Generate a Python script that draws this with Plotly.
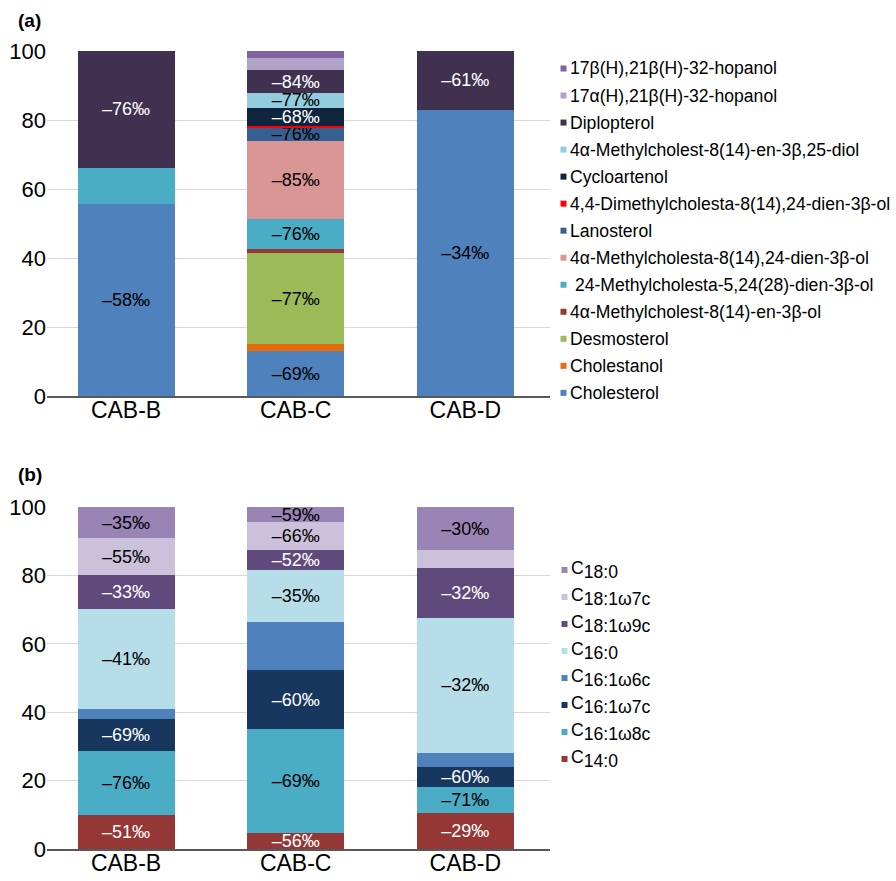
import plotly.graph_objects as go

# ---- data -------------------------------------------------------------
sites = ["CAB-B", "CAB-C", "CAB-D"]

# (a) sterols and hopanols, relative abundance (%), listed bottom -> top of the stack
sterol_names = [
    "Cholesterol",
    "Cholestanol",
    "Desmosterol",
    "4α-Methylcholest-8(14)-en-3β-ol",
    " 24-Methylcholesta-5,24(28)-dien-3β-ol",
    "4α-Methylcholesta-8(14),24-dien-3β-ol",
    "Lanosterol",
    "4,4-Dimethylcholesta-8(14),24-dien-3β-ol",
    "Cycloartenol",
    "4α-Methylcholest-8(14)-en-3β,25-diol",
    "Diplopterol",
    "17α(H),21β(H)-32-hopanol",
    "17β(H),21β(H)-32-hopanol",
]
cholesterol = [55.7, 13.0, 83.0]
cholestanol = [0.0, 2.1, 0.0]
desmosterol = [0.0, 26.3, 0.0]
methylcholestenol = [0.0, 1.3, 0.0]
methylcholestadienol_24 = [10.4, 8.5, 0.0]
methylcholestadienol_4a = [0.0, 22.8, 0.0]
lanosterol = [0.0, 3.9, 0.0]
dimethylcholestadienol = [0.0, 0.5, 0.0]
cycloartenol = [0.0, 5.2, 0.0]
methylcholestenediol = [0.0, 4.3, 0.0]
diplopterol = [33.9, 6.5, 17.0]
hopanol_17a = [0.0, 3.7, 0.0]
hopanol_17b = [0.0, 1.9, 0.0]

sterol_values = [
    cholesterol, cholestanol, desmosterol, methylcholestenol,
    methylcholestadienol_24, methylcholestadienol_4a, lanosterol,
    dimethylcholestadienol, cycloartenol, methylcholestenediol,
    diplopterol, hopanol_17a, hopanol_17b,
]

# δ13C labels (‰) per compound and site (None = not labelled)
sterol_labels = [
    ["–58‰", "–69‰", "–34‰"],
    None,
    [None, "–77‰", None],
    None,
    [None, "–76‰", None],
    [None, "–85‰", None],
    [None, "–76‰", None],
    None,
    [None, "–68‰", None],
    [None, "–77‰", None],
    ["–76‰", "–84‰", "–61‰"],
    None,
    None,
]

# (b) fatty acids, relative abundance (%), bottom -> top
fa_names = [
    "C<sub>14:0</sub>",
    "C<sub>16:1ω8c</sub>",
    "C<sub>16:1ω7c</sub>",
    "C<sub>16:1ω6c</sub>",
    "C<sub>16:0</sub>",
    "C<sub>18:1ω9c</sub>",
    "C<sub>18:1ω7c</sub>",
    "C<sub>18:0</sub>",
]
c14_0 = [9.9, 4.8, 10.4]
c16_1w8c = [18.9, 30.2, 7.6]
c16_1w7c = [9.3, 17.3, 5.9]
c16_1w6c = [2.9, 14.1, 4.3]
c16_0 = [29.2, 15.1, 39.4]
c18_1w9c = [9.9, 5.9, 14.7]
c18_1w7c = [10.8, 8.2, 5.0]
c18_0 = [9.1, 4.4, 12.7]

fa_values = [c14_0, c16_1w8c, c16_1w7c, c16_1w6c, c16_0, c18_1w9c, c18_1w7c, c18_0]

fa_labels = [
    ["–51‰", "–56‰", "–29‰"],
    ["–76‰", "–69‰", "–71‰"],
    ["–69‰", "–60‰", "–60‰"],
    None,
    ["–41‰", "–35‰", "–32‰"],
    ["–33‰", "–52‰", "–32‰"],
    ["–55‰", "–66‰", None],
    ["–35‰", "–59‰", "–30‰"],
]

y_ticks = [0, 20, 40, 60, 80, 100]

# ---- styling ----------------------------------------------------------
FONT = "Liberation Sans, Arial, sans-serif"
LEGEND_SIZE = 17.6

sterol_colors = [
    "#4F81BD", "#E46C0A", "#9BBB59", "#953735", "#4BACC6", "#D99694",
    "#376092", "#FF0000", "#10243E", "#93CDDD", "#403151", "#B3A2C7", "#8064A2",
]
sterol_text_colors = [
    "black", "black", "black", "white", "black", "black",
    "black", "white", "white", "black", "white", "black", "white",
]

fa_colors = [
    "#953735", "#4BACC6", "#17375E", "#4F81BD", "#B7DEE8", "#604A7B", "#CCC1DA", "#9A84B5",
]
fa_text_colors = ["white", "black", "white", "white", "black", "white", "black", "black"]

# figure geometry (pixels)
W, H = 896, 881
ML, MR, MT, MB = 47, 346, 51, 32
PW, PH = W - ML - MR, H - MT - MB


def px_x(px):
    return (px - ML) / PW


def px_y(py):
    return (H - MB - py) / PH


fig = go.Figure()


def add_stack(names, values, labels, colors, text_colors, xa, ya):
    for name, vals, labs, col, tcol in zip(names, values, labels, colors, text_colors):
        bar = dict(
            x=sites, y=vals, name=name,
            marker=dict(color=col, line=dict(width=0)),
            xaxis=xa, yaxis=ya, showlegend=False, hoverinfo="skip",
        )
        if labs is not None:
            bar.update(
                text=labs, textposition="inside", insidetextanchor="middle",
                textangle=0, textfont=dict(family=FONT, size=18, color=tcol),
            )
        else:
            bar.update(textposition="none")
        fig.add_trace(go.Bar(**bar))


add_stack(sterol_names, sterol_values, sterol_labels, sterol_colors,
          sterol_text_colors, "x", "y")
add_stack(fa_names, fa_values, fa_labels, fa_colors, fa_text_colors, "x2", "y2")

# ---- legends (square swatch + label, top entry = top of stack) ---------
shapes = []
annotations = []


def full_size_sub(label):
    # subscripts drawn at the full legend size, only lowered
    return label.replace(
        "<sub>", "<sub><span style='font-size:%.1fpx'>" % LEGEND_SIZE
    ).replace("</sub>", "</span></sub>")


def add_legend(names, colors, first_y, step, sw_x, txt_x):
    for i, (name, col) in enumerate(zip(reversed(names), reversed(colors))):
        cy = first_y + i * step
        shapes.append(dict(
            type="rect", xref="paper", yref="paper",
            x0=px_x(sw_x - 3), x1=px_x(sw_x + 3),
            y0=px_y(cy + 3), y1=px_y(cy - 3),
            fillcolor=col, line=dict(width=0),
        ))
        annotations.append(dict(
            text=full_size_sub(name), xref="paper", yref="paper",
            x=px_x(txt_x), y=px_y(cy), xanchor="left", yanchor="middle",
            showarrow=False, font=dict(family=FONT, size=LEGEND_SIZE, color="black"),
        ))


add_legend(sterol_names, sterol_colors, 68.5, 27.03, 563.5, 568)
add_legend(fa_names, fa_colors, 570, 27.0, 564.5, 569)

for lab, cy in (("(a)", 21), ("(b)", 474)):
    annotations.append(dict(
        text="<b>%s</b>" % lab, xref="paper", yref="paper",
        x=px_x(16), y=px_y(cy), xanchor="left", yanchor="middle",
        showarrow=False, font=dict(family=FONT, size=19, color="black"),
    ))

x_common = dict(
    type="category", range=[-0.466, 2.499], automargin=False,
    showline=True, linecolor="#595959", linewidth=1.5,
    ticks="", showgrid=False, zeroline=False, ticklabelstandoff=-7,
    tickfont=dict(family=FONT, size=23, color="black"),
)
y_common = dict(
    range=[0, 100], tickvals=y_ticks, showgrid=True, gridcolor="#D9D9D9",
    gridwidth=1, zeroline=False, showline=False, ticks="", automargin=False,
    tickfont=dict(family=FONT, size=22, color="black"),
)

fig.update_layout(
    width=W, height=H,
    margin=dict(l=ML, r=MR, t=MT, b=MB, pad=0, autoexpand=False),
    paper_bgcolor="white", plot_bgcolor="white",
    barmode="stack", bargap=0.428,
    xaxis=dict(domain=[0, 1], anchor="y", **x_common),
    yaxis=dict(domain=[px_y(396), 1], anchor="x", **y_common),
    xaxis2=dict(domain=[0, 1], anchor="y2", **x_common),
    yaxis2=dict(domain=[0, px_y(507)], anchor="x2", **y_common),
    uniformtext=dict(minsize=18, mode="show"),
    shapes=shapes, annotations=annotations,
    font=dict(family=FONT),
)

fig.write_html("out.html")
